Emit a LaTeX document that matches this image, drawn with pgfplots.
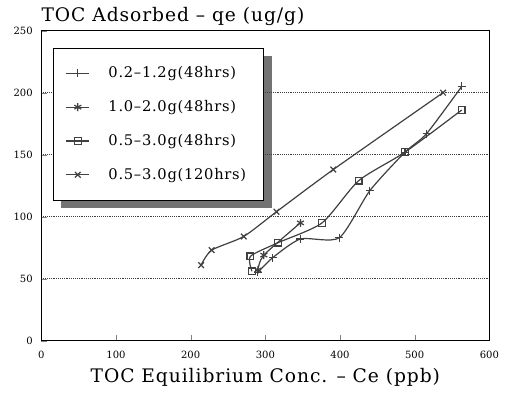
\documentclass[border=0pt]{standalone}
\usepackage{fontspec}
\setmainfont{DejaVu Serif}
\newfontfamily\lsfont[LetterSpace=5]{DejaVu Serif}
\usepackage{pgfplots}
\pgfplotsset{compat=1.18}
\usetikzlibrary{backgrounds}
\begin{document}
\begin{tikzpicture}
\begin{axis}[
  scale only axis, width=336pt, height=232.5pt,
  xmin=0, xmax=600, ymin=0, ymax=250,
  xtick={0,100,...,600}, ytick={0,50,...,250},
  tick align=inside, xtick pos=bottom, ytick pos=left,
  major tick length=4pt,
  /pgf/number format/assume math mode=true,
  ticklabel style={font=\fontsize{7.5}{9}\selectfont},
  xticklabel style={yshift=-4pt},
  yticklabel style={xshift=-3pt},
  ymajorgrids, grid style={densely dotted, black!75, line width=0.5pt},
  axis line style={line width=0.8pt},
  xlabel={TOC Equilibrium Conc. – Ce (ppb)},
  xlabel style={font=\lsfont\fontsize{14}{16}\selectfont, yshift=-1pt},
  title={TOC Adsorbed – qe (ug/g)},
  title style={at={(0,1)}, anchor=base west, inner xsep=0pt, yshift=1pt, font=\lsfont\fontsize{14}{16}\selectfont},
  legend style={name=leg, at={(0.027,0.945)}, anchor=north west, draw=black, fill=white,
    line width=0.6pt, font=\lsfont\fontsize{11}{12}\selectfont, row sep=11.5pt,
    inner xsep=9pt, inner ysep=12pt},
  legend cell align=left,
  every axis plot/.append style={line width=0.9pt, smooth, tension=0.4, mark size=3pt},
]
\addplot[color=black!75, mark=+, mark options={solid}] coordinates {
 (290,55) (310,67) (347,82) (399,83) (440,121) (487,152) (516,167) (563,205)};
\addlegendentry{\makebox[117pt][l]{\hspace*{12pt}0.2–1.2g(48hrs)}}
\addplot[color=black!75, mark=asterisk, mark options={solid}] coordinates {
 (290,57) (298,69) (347,95)};
\addlegendentry{\makebox[117pt][l]{\hspace*{12pt}1.0–2.0g(48hrs)}}
\addplot[color=black!75, mark=square, mark size=2.5pt, mark options={solid, fill=white}] coordinates {
 (282,56) (280,68) (317,79) (376,95) (425,129) (487,152) (563,186)};
\addlegendentry{\makebox[117pt][l]{\hspace*{12pt}0.5–3.0g(48hrs)}}
\addplot[color=black!75, mark=x, mark options={solid}] coordinates {
 (214,61) (228,73) (271,84) (315,104) (391,138) (538,200)};
\addlegendentry{\makebox[117pt][l]{\hspace*{12pt}0.5–3.0g(120hrs)}}
\path (rel axis cs:0,0) ++(-31pt,-45pt) coordinate (bbl);
\path (rel axis cs:1,1) ++(17pt,23pt) coordinate (btr);
\end{axis}
\begin{scope}[on background layer]
\fill[black!55] ([shift={(6pt,-6pt)}]leg.south west) rectangle ([shift={(6pt,-6pt)}]leg.north east);
\end{scope}
\pgfresetboundingbox
\path[use as bounding box] (bbl) rectangle (btr);
\end{tikzpicture}
\end{document}
